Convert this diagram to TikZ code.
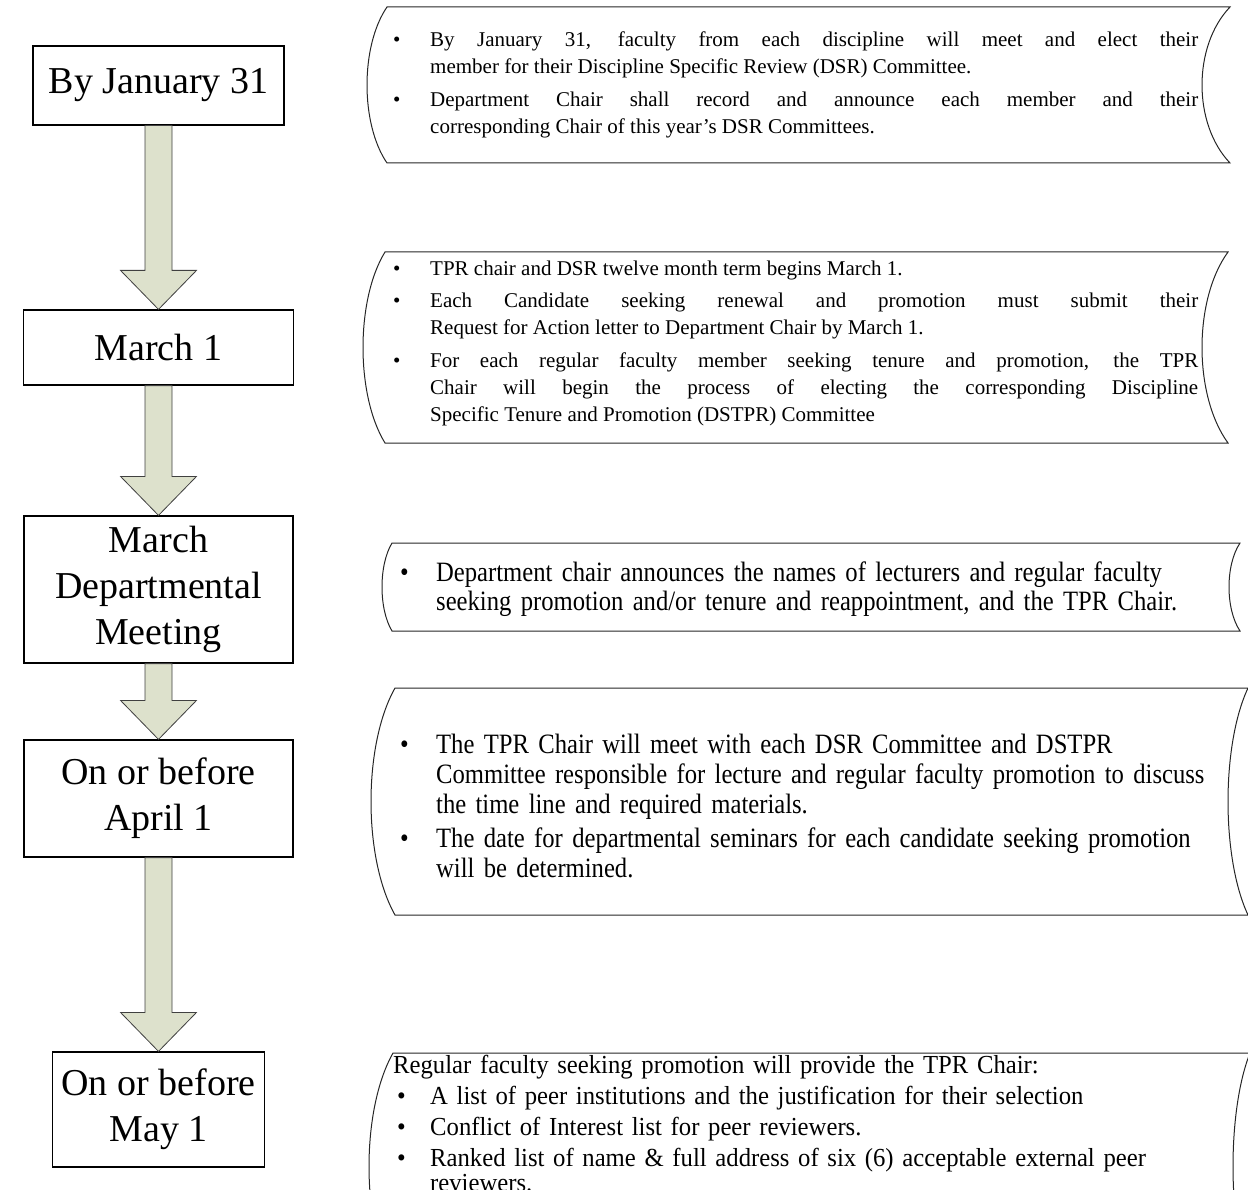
\documentclass[tikz,border=0pt]{standalone}
\usepackage{fontspec}
\setmainfont{Liberation Serif}
\newfontfamily\condserif[FakeStretch=0.88]{Liberation Serif}
\newfontfamily\condsmall[FakeStretch=0.95]{Liberation Serif}
\usetikzlibrary{calc}
\definecolor{arrowfill}{RGB}{221,225,204}

\newlength{\labw}
\newlength{\bulx}
\newcommand{\bitem}[1]{\noindent\makebox[\labw][l]{\hspace*{\bulx}\textbullet}%
  \parbox[t]{\dimexpr\linewidth-\labw\relax}{\selectfont\lineskiplimit=-10pt\strut#1\strut}\par}
% top, bottom, left, right, left bulge, right bulge
\newcommand{\storedshape}[6]{%
  \draw[noteline] (#3,#1) -- (#4,#1)
    .. controls ({#4-1.333*#6},{#1+0.25*(#2-#1)}) and ({#4-1.333*#6},{#2-0.25*(#2-#1)}) .. (#4,#2)
    -- (#3,#2)
    .. controls ({#3-1.333*#5},{#2-0.25*(#2-#1)}) and ({#3-1.333*#5},{#1+0.25*(#2-#1)}) .. (#3,#1) -- cycle;}

\begin{document}
\begin{tikzpicture}[x=1pt,y=-1pt,
  datebox/.style={draw, line width=1.2pt, inner sep=0pt, align=center, font=\fontsize{38}{46}\selectfont},
  note/.style={inner sep=0pt, anchor=west, align=justify, font=\fontsize{21}{27}\selectfont,
    execute at begin node={\tolerance=10000\hbadness=10000\setlength{\labw}{37pt}\setlength{\bulx}{0pt}\setlength{\parskip}{5pt}}},
  longnote/.style={note, align=left, text width=880pt, font=\condserif\fontsize{28}{30}\selectfont,
    execute at begin node={\tolerance=10000\hbadness=10000\lineskiplimit=-10pt\setlength{\labw}{36pt}\setlength{\bulx}{0pt}\setlength{\parskip}{3pt}}},
  noteline/.style={draw=black!85, line width=1pt},
  blockarrow/.style={draw=black!75, line width=0.8pt, fill=arrowfill, to path={
    ($(\tikztostart.south)+(-13.5,0)$) -- ($(\tikztotarget.north)+(-13.5,-39)$)
    -- ($(\tikztotarget.north)+(-38,-39)$) -- (\tikztotarget.north)
    -- ($(\tikztotarget.north)+(38,-39)$) -- ($(\tikztotarget.north)+(13.5,-39)$)
    -- ($(\tikztostart.south)+(13.5,0)$) -- cycle}}]
\useasboundingbox (0,0) rectangle (1248,1190);

% time line
\node[datebox, minimum width=251pt, minimum height=79pt] (t1) at (158.5,85.5) {By January 31};
\node[datebox, minimum width=270pt, minimum height=75pt] (t2) at (158.5,347.5) {March 1};
\node[datebox, minimum width=269pt, minimum height=147pt] (t3) at (158.5,589.5) {March\\Departmental\\Meeting};
\node[datebox, minimum width=269pt, minimum height=117pt] (t4) at (158.5,798.5) {On or before\\April 1};
\node[datebox, minimum width=212pt, minimum height=115pt] (t5) at (158.5,1109.5) {On or before\\May 1};

\draw[blockarrow] (t1) to (t2);
\draw[blockarrow] (t2) to (t3);
\draw[blockarrow] (t3) to (t4);
\draw[blockarrow] (t4) to (t5);

% notes
\storedshape{7}{163}{387}{1230}{20}{28}
\storedshape{252}{443}{385}{1228}{22}{26}
\storedshape{543}{631}{392}{1240}{10}{11}
\storedshape{688}{915}{395}{1248}{24}{20}
\storedshape{1053}{1280}{393}{1250}{24}{17}

\node[note, text width=805pt] (n1) at (393,85) {\bitem{By January 31, faculty from each discipline will meet and elect their\linebreak member for their Discipline Specific Review (DSR) Committee.}
\bitem{Department Chair shall record and announce each member and their\linebreak corresponding Chair of this year’s DSR Committees.}};

\node[note, text width=805pt] (n2) at (393,343) {\bitem{TPR chair and DSR twelve month term begins March 1.}
\bitem{Each Candidate seeking renewal and promotion must submit their\linebreak Request for Action letter to Department Chair by March 1.}
\bitem{For each regular faculty member seeking tenure and promotion, the TPR\linebreak Chair will begin the process of electing the corresponding Discipline\linebreak Specific Tenure and Promotion (DSTPR) Committee}};

\node[longnote, font=\condserif\fontsize{28}{29}\selectfont] (n3) at (400,590.5) {\bitem{Department chair announces the names of lecturers and regular faculty\newline seeking promotion and/or tenure and reappointment, and the TPR Chair.}};

\node[longnote] (n4) at (400,809) {\bitem{The TPR Chair will meet with each DSR Committee and DSTPR\newline Committee responsible for lecture and regular faculty promotion to discuss\newline the time line and required materials.}
\bitem{The date for departmental seminars for each candidate seeking promotion\newline will be determined.}};

\node[longnote, anchor=north west, font=\condsmall\fontsize{26}{25}\selectfont] (n5) at (393,1055) {\setlength{\labw}{37pt}\setlength{\bulx}{4pt}\setlength{\parskip}{6pt}Regular faculty seeking promotion will provide the TPR Chair:\par
\bitem{A list of peer institutions and the justification for their selection}
\bitem{Conflict of Interest list for peer reviewers.}
\bitem{Ranked list of name \& full address of six (6) acceptable external peer\newline reviewers.}};
\end{tikzpicture}
\end{document}
